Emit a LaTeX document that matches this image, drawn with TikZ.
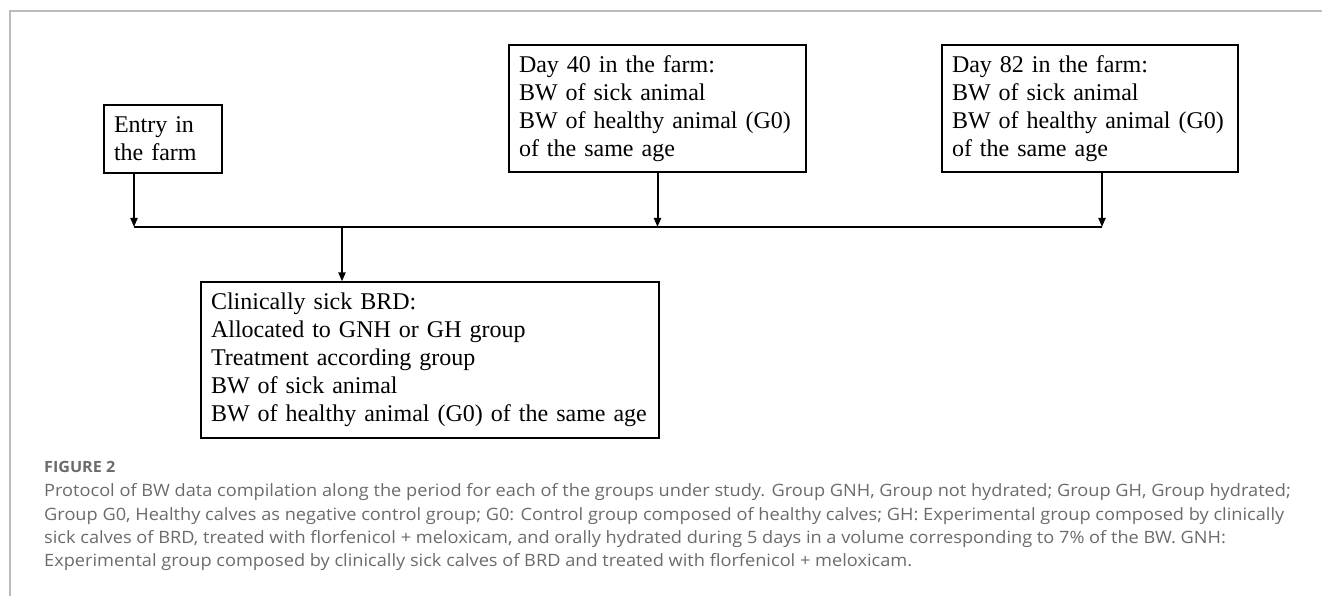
\documentclass[tikz,border=0pt]{standalone}
\usepackage{fontspec}
\setmainfont{Liberation Serif}
\newfontfamily\capfont[FakeStretch=1.07]{Open Sans}
\newfontfamily\capfontb[FakeStretch=1.04]{Open Sans}
\usetikzlibrary{arrows.meta}
\definecolor{framegray}{HTML}{BBBBBB}
\definecolor{capgray}{HTML}{6B6B6B}
\tikzset{
  box/.style={draw=black, line width=1.2pt, font=\fontsize{24}{28}\selectfont, align=left,
              inner xsep=10pt, inner ysep=0pt, anchor=center},
  arr/.style={draw=black, line width=2pt, -{Triangle[length=9pt,width=7pt]}},
  bus/.style={draw=black, line width=2.4pt},
  captext/.style={anchor=base west, inner sep=0pt, text=capgray, font=\capfont\fontsize{17}{23}\selectfont},
}
\begin{document}
\begin{tikzpicture}[x=1pt,y=-1pt]
\useasboundingbox (0,0) rectangle (1322,596);
% frame
\draw[framegray, line width=1.5pt] (10,596) -- (10,11) -- (1322,11);

% boxes
\node[box, text width=98pt, minimum height=68pt] (entry) at (163,139)
  {Entry in\\the farm};
\node[box, text width=277pt, minimum height=127pt] (day40) at (657.5,108.5)
  {Day 40 in the farm:\\BW of sick animal\\BW of healthy animal (G0)\\of the same age};
\node[box, text width=276pt, minimum height=127pt] (day82) at (1090,108.5)
  {Day 82 in the farm:\\BW of sick animal\\BW of healthy animal (G0)\\of the same age};
\node[box, text width=438pt, minimum height=156pt] (clin) at (430,360)
  {Clinically sick BRD:\\Allocated to GNH or GH group\\Treatment according group\\BW of sick animal\\BW of healthy animal (G0) of the same age};

% bus coordinates
\coordinate (busL) at (134,227);
\coordinate (busJ) at (342,227);
\coordinate (busR) at (1102,227);

\draw[bus] (busL) -- (busR);
\draw[arr] (entry.south -| busL) -- (busL);
\draw[arr] (day40.south) -- (day40.south |- busL);
\draw[arr] (day82.south -| busR) -- (busR);
\draw[arr] (busJ) -- (clin.north -| busJ);

% caption
\node[captext, font=\capfontb\bfseries\fontsize{15.5}{18}\selectfont] (fig) at (44,472.7) {FIGURE 2};
\node[captext] (cap1) at (44,496.7) {Protocol of BW data compilation along the period for each of the groups under study. Group GNH, Group not hydrated; Group GH, Group hydrated;};
\node[captext] (cap2) at (44,520) {Group G0, Healthy calves as negative control group; G0: Control group composed of healthy calves; GH: Experimental group composed by clinically};
\node[captext] (cap3) at (44,543.3) {sick calves of BRD, treated with florfenicol + meloxicam, and orally hydrated during 5 days in a volume corresponding to 7\% of the BW. GNH:};
\node[captext] (cap4) at (44,566.6) {Experimental group composed by clinically sick calves of BRD and treated with florfenicol + meloxicam.};
\end{tikzpicture}
\end{document}
